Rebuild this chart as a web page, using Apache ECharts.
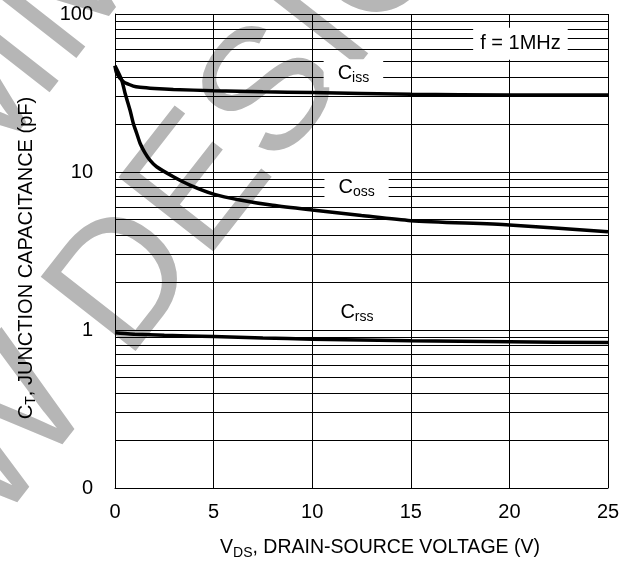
<!DOCTYPE html>
<html>
<head>
<meta charset="utf-8">
<script src="https://cdn.jsdelivr.net/npm/echarts@6/dist/echarts.min.js"></script>
<style>
html,body{margin:0;padding:0;background:#fff;}
#chart{width:638px;height:561px;}
</style>
</head>
<body>
<div id="chart"></div>
<script>
// ---- data ----
const vdsCiss = [0, 0.09, 0.42, 0.93, 1.27, 2, 2.96, 5, 7.5, 10, 15, 20, 25];
const ciss    = [47, 42, 37.3, 35, 34.4, 33.8, 33.3, 32.7, 32.2, 31.8, 31.0, 30.7, 30.7];

const vdsCoss = [0, 0.34, 0.51, 0.76, 0.93, 1.1, 1.27, 1.52, 1.77, 2.11, 2.96, 3.8, 5, 6.34, 8, 10, 12.5, 15, 20, 25];
const coss    = [47, 38.2, 31.5, 24.7, 20.3, 17.6, 15.2, 13.2, 11.9, 10.8, 9.34, 8.27, 7.25, 6.65, 6.15, 5.74, 5.3, 4.92, 4.62, 4.19];

const vdsCrss = [0, 0.5, 1, 2.5, 5, 7.5, 10, 15, 20, 25];
const crss    = [0.96, 0.95, 0.94, 0.925, 0.91, 0.89, 0.875, 0.855, 0.843, 0.832];

const xTickValues = [0, 5, 10, 15, 20, 25];
const yTickLabels = {"0.1": "0", "1": "1", "10": "10", "100": "100"};
const yMinorGrid = [0.2,0.3,0.4,0.5,0.6,0.7,0.8,0.9, 2,3,4,5,6,7,8,9, 20,30,40,50,60,70,80,90];

const curveLabelNames = ["iss", "oss", "rss"];
const curveLabelX = [12.09, 12.25, 12.27];
const curveLabelY = [42.2, 7.98, 1.29];
const freqLabel = "f = 1MHz";
const freqLabelX = 20.56, freqLabelY = 64.9;

const xTitleMain = "V", xTitleSub = "DS", xTitleRest = ", DRAIN-SOURCE VOLTAGE (V)";
const yTitleMain = "C", yTitleSub = "T", yTitleRest = ", JUNCTION CAPACITANCE (pF)";
const watermarkLines = ["NOT RECOMMENDED", "FOR NEW DESIGN"];

// ---- chart ----
const FONT = "'Liberation Sans', Arial, Helvetica, sans-serif";
const zip = (xs, ys) => xs.map((x, i) => [x, ys[i]]);
const chart = echarts.init(document.getElementById('chart'), null, {renderer: 'canvas'});

const curveStyle = {color: '#000', width: 3.5};
const richSub = {
  c: {fontSize: 20, fontFamily: FONT, color: '#000', lineHeight: 24, verticalAlign: 'middle'},
  s: {fontSize: 14, fontFamily: FONT, color: '#000', lineHeight: 15, verticalAlign: 'bottom'}
};

const option = {
  backgroundColor: '#fff',
  animation: false,
  grid: {left: 115, right: 30, top: 14, bottom: 73, containLabel: false, outerBoundsMode: 'none'},
  xAxis: {
    type: 'value', min: 0, max: 25, interval: 5,
    axisLine: {show: true, onZero: false, lineStyle: {color: '#000', width: 1}},
    axisTick: {show: false},
    axisLabel: {color: '#000', fontSize: 20, fontFamily: FONT, margin: 14,
      formatter: v => xTickValues.includes(v) ? String(v) : ''},
    splitLine: {show: true, lineStyle: {color: '#000', width: 1}}
  },
  yAxis: {
    type: 'log', logBase: 10, min: 0.1, max: 100,
    axisLine: {show: true, lineStyle: {color: '#000', width: 1}},
    axisTick: {show: false},
    axisLabel: {color: '#000', fontSize: 20, fontFamily: FONT, margin: 22,
      formatter: v => {
        const k = String(Math.round(v * 10) / 10);
        return yTickLabels[k] !== undefined ? yTickLabels[k] : '';
      }},
    splitLine: {show: true, lineStyle: {color: '#000', width: 1}}
  },
  graphic: [
    {
      type: 'group', x: -450, y: 1022, rotation: 52 * Math.PI / 180, z: -5, silent: true,
      children: [
        {type: 'text', x: 0, y: -227, z: -5, style: {text: watermarkLines[0], fontSize: 175, fontFamily: FONT, fill: '#b6b6b6', align: 'left', verticalAlign: 'middle'}},
        {type: 'text', x: 0, y: 0, z: -5, style: {text: watermarkLines[1], fontSize: 175, fontFamily: FONT, fill: '#b6b6b6', align: 'left', verticalAlign: 'middle'}}
      ]
    },
    {
      type: 'text', x: 380, y: 548, z: 10, silent: true,
      style: {
        text: '{a|' + xTitleMain + '}{b|' + xTitleSub + '}{a|' + xTitleRest + '}',
        align: 'center', verticalAlign: 'middle',
        rich: {
          a: {fontSize: 19.5, fontFamily: FONT, fill: '#000', lineHeight: 24, verticalAlign: 'middle'},
          b: {fontSize: 14, fontFamily: FONT, fill: '#000', lineHeight: 15, verticalAlign: 'bottom'}
        }
      }
    },
    {
      type: 'text', x: 26, y: 258, rotation: Math.PI / 2, z: 10, silent: true,
      style: {
        text: '{a|' + yTitleMain + '}{b|' + yTitleSub + '}{a|' + yTitleRest + '}',
        align: 'center', verticalAlign: 'middle',
        rich: {
          a: {fontSize: 20, fontFamily: FONT, fill: '#000', lineHeight: 24, verticalAlign: 'middle'},
          b: {fontSize: 14, fontFamily: FONT, fill: '#000', lineHeight: 15, verticalAlign: 'bottom'}
        }
      }
    }
  ],
  series: [
    {
      name: 'minorGrid', type: 'line', data: [], z: 1, silent: true,
      markLine: {
        silent: true, animation: false, symbol: ['none', 'none'],
        label: {show: false},
        lineStyle: {color: '#000', width: 1, type: 'solid'},
        emphasis: {disabled: true},
        data: yMinorGrid.map(v => ({yAxis: v}))
      }
    },
    {name: 'Ciss', type: 'line', data: zip(vdsCiss, ciss), symbol: 'none', smooth: 0.25, lineStyle: curveStyle, z: 3, silent: true},
    {name: 'Coss', type: 'line', data: zip(vdsCoss, coss), symbol: 'none', smooth: 0.25, lineStyle: curveStyle, z: 3, silent: true},
    {name: 'Crss', type: 'line', data: zip(vdsCrss, crss), symbol: 'none', smooth: 0.25, lineStyle: curveStyle, z: 3, silent: true},
    {
      name: 'labels', type: 'line', data: [], z: 10, silent: true,
      markPoint: {
        silent: true, animation: false, symbol: 'rect', symbolSize: 0,
        data: curveLabelNames.map((n, i) => ({
          coord: [curveLabelX[i], curveLabelY[i]],
          label: {
            show: true, position: 'inside',
            formatter: '{c|C}{s|' + n + '}',
            backgroundColor: '#fff', padding: [2, 14, 2, 14],
            rich: richSub
          }
        })).concat([{
          coord: [freqLabelX, freqLabelY],
          label: {
            show: true, position: 'inside',
            formatter: freqLabel,
            color: '#000', fontSize: 20, fontFamily: FONT, lineHeight: 24,
            backgroundColor: '#fff', padding: [4, 7, 4, 7]
          }
        }])
      }
    }
  ]
};
chart.setOption(option);
</script>
</body>
</html>
